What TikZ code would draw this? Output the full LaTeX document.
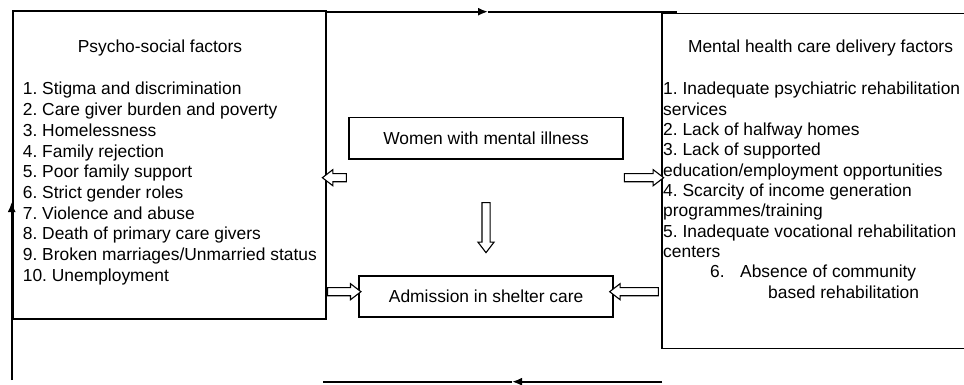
\documentclass[tikz,border=0pt]{standalone}
\usepackage{fontspec}
\setmainfont{Liberation Sans}
\usetikzlibrary{arrows.meta,shapes.arrows}
\frenchspacing

\begin{document}
\begin{tikzpicture}[x=1pt,y=-1pt,
  box/.style={draw,line width=1.6pt,inner sep=0pt,anchor=north west},
  txt/.style={font=\fontsize{17.4}{20.7}\selectfont,inner sep=0pt},
  hollow/.style={single arrow,draw,line width=1.1pt,fill=white,inner sep=3.5pt,
    single arrow head extend=4pt,single arrow tip angle=75},
  flow/.style={line width=1.7pt}]
\useasboundingbox (0,0) rectangle (964,385);

% boxes
\node[box,minimum width=313,minimum height=308] (psycho) at (12,10) {};
\node[box,minimum width=340,minimum height=335] (delivery) at (661,12.7) {};
\node[box,minimum width=274,minimum height=41.5] (women) at (348.3,116.7) {};
\node[box,minimum width=254,minimum height=41] (admission) at (358.3,275) {};

\node[txt] at (women.center) {Women with mental illness};
\node[txt] at (admission.center) {Admission in shelter care};

% psycho-social factors
\node[txt,anchor=base] (psycho_title) at (160,53) {Psycho-social factors};
\foreach \item [count=\i] in {1. Stigma and discrimination,2. Care giver burden and poverty,
  3. Homelessness,4. Family rejection,5. Poor family support,6. Strict gender roles,
  7. Violence and abuse,8. Death of primary care givers,9. Broken marriages/Unmarried status,
  10. Unemployment}
  \node[txt,anchor=base west] (ps\i) at (22.7,{95+20.7*(\i-1)}) {\item};

% mental health care delivery factors
\node[txt,anchor=base] (delivery_title) at (820.5,53) {Mental health care delivery factors};
\foreach \item [count=\i] in {1. Inadequate psychiatric rehabilitation,services,
  2. Lack of halfway homes,3. Lack of supported,education/employment opportunities,
  4. Scarcity of income generation,programmes/training,
  5. Inadequate vocational rehabilitation,centers}
  \node[txt,anchor=base west] (md\i) at (663,{95+20.3*(\i-1)}) {\item};
\node[txt,anchor=base west] (md6) at (710,{95+20.3*9}) {6.};
\node[txt,anchor=base west] (md6a) at (740,{95+20.3*9}) {Absence of community};
\node[txt,anchor=base west] (md6b) at (768,{95+20.3*10}) {based rehabilitation};

% hollow arrows
\node[hollow,minimum height=24,shape border rotate=180] (to_psycho) at (337,177.7) {};
\node[hollow,minimum height=39.3] (to_delivery) at (641.35,177.7) {};
\node[hollow,minimum height=50,shape border rotate=270] (to_admission) at (486,225) {};
\node[hollow,minimum height=33.3] (psycho_adm) at (341.65,291.7) {};
\node[hollow,minimum height=48.7,shape border rotate=180] (delivery_adm) at (636.65,291.7) {};

% feedback loop
\coordinate (top_start) at (325,11.7);
\coordinate (top_mid) at (488,11.7);
\coordinate (top_end) at (677,11.7);
\coordinate (bot_start) at (662,381.7);
\coordinate (bot_mid) at (512,381.7);
\coordinate (bot_end) at (323,381.7);
\coordinate (side_start) at (11.7,380);
\coordinate (side_mid) at (11.7,202);
\draw[flow,-{Latex[length=10pt,width=8pt]}] (top_start) -- (top_mid);
\draw[flow] (top_mid) -- (top_end);
\draw[flow,-{Latex[length=10pt,width=8pt]}] (bot_start) -- (bot_mid);
\draw[flow] (bot_mid) -- (bot_end);
\draw[flow,-{Latex[length=10pt,width=8pt]}] (side_start) -- (side_mid);
\end{tikzpicture}
\end{document}
